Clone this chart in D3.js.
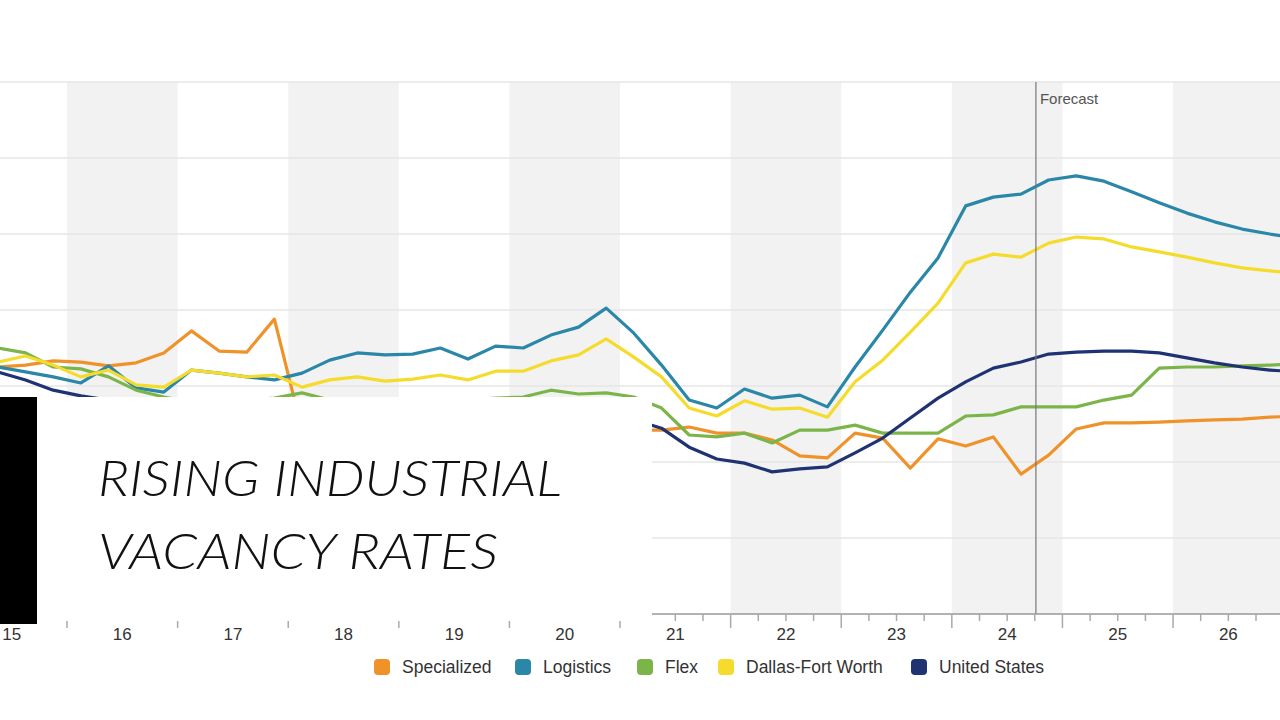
<!DOCTYPE html>
<html><head><meta charset="utf-8">
<script src="https://cdn.jsdelivr.net/npm/d3@7"></script>
<style>body{margin:0;background:#fff}svg{display:block}</style>
</head><body><svg id="c" width="1280" height="720"></svg>
<script>
const yearLabels = ["15","16","17","18","19","20","21","22","23","24","25","26"];
const seriesNames = ["Specialized","Logistics","Flex","Dallas-Fort Worth","United States"];
const seriesColors = ["#f0922a","#2a87a8","#7bb54a","#f5dc2c","#1f3272"];
// quarterly values, 2015 Q2 .. 2027 Q1
const specialized = [6.50,6.55,6.66, 6.63,6.53,6.61,6.87, 7.45,6.92,6.89,7.76, 4.84,4.79,4.89,4.71, 4.84,4.89,4.79,4.84, 4.97,4.89,4.84,4.95, 4.84,4.84,4.92,4.76, 4.76,4.58,4.16,4.11, 4.76,4.63,3.84,4.61, 4.42,4.66,3.68,4.18, 4.87,5.03,5.03,5.05, 5.08,5.11,5.13,5.18, 5.21];
const logistics = [6.50,6.37,6.24, 6.08,6.53,5.95,5.84, 6.42,6.34,6.24,6.16, 6.34,6.68,6.87,6.82, 6.84,7.00,6.71,7.05, 7.00,7.34,7.55,8.05, 7.39,6.55,5.63,5.42, 5.92,5.68,5.76,5.45, 6.50,7.47,8.47,9.37, 10.74,10.97,11.05,11.42, 11.53,11.39,11.11,10.82, 10.55,10.32,10.13,10.00, 9.89];
const flex = [7.00,6.87,6.50, 6.45,6.24,5.89,5.71, 5.58,5.50,5.63,5.68, 5.82,5.63,5.50,5.47, 5.53,5.58,5.63,5.68, 5.71,5.89,5.79,5.82, 5.71,5.42,4.71,4.66, 4.76,4.50,4.84,4.84, 4.97,4.76,4.76,4.76, 5.21,5.24,5.45,5.45, 5.45,5.63,5.76,6.47, 6.50,6.50,6.53,6.55, 6.58];
const dfw = [6.63,6.79,6.55, 6.24,6.42,6.03,5.97, 6.42,6.34,6.24,6.29, 5.97,6.16,6.24,6.13, 6.18,6.29,6.16,6.39, 6.39,6.66,6.82,7.24, 6.76,6.24,5.42,5.21, 5.61,5.39,5.42,5.18, 6.11,6.68,7.42,8.18, 9.24,9.47,9.39,9.76, 9.92,9.87,9.66,9.53, 9.39,9.24,9.11,9.03, 8.95];
const us = [6.37,6.16,5.89, 5.74,5.63,5.50,5.37, 5.32,5.26,5.24,5.21, 5.16,5.11,5.05,5.00, 4.97,4.95,4.92,4.89, 4.97,5.16,5.32,5.24, 5.11,4.89,4.39,4.08, 3.97,3.74,3.82,3.87, 4.24,4.63,5.16,5.68, 6.11,6.47,6.63,6.84, 6.89,6.92,6.92,6.87, 6.74,6.61,6.50,6.42, 6.37];
const yTicks = [2,4,6,8,10,12,14];
const forecastStart = 2024.76;
const firstYear = 2015, firstQuarter = 2;

const allSeries = [specialized, logistics, flex, dfw, us];
const svg = d3.select("#c");
const x = d3.scaleLinear().domain([2015.394, 2026.967]).range([0,1280]);
const y = d3.scaleLinear().domain([0,14]).range([614,82]);
const tOf = i => { const q = firstQuarter - 1 + i; return firstYear + Math.floor(q/4) + ((q%4)+0.5)/4; };

svg.append("defs").append("clipPath").attr("id","cp").append("rect").attr("x",0).attr("y",y(14)).attr("width",1280).attr("height",y(0)-y(14));
const years = yearLabels.map(d => 2000 + +d);
svg.selectAll("rect.band").data(years.filter(v => v%2===0)).join("rect")
  .attr("x", d => x(d)).attr("y", y(14)).attr("width", d => x(d+1)-x(d)).attr("height", y(0)-y(14)).attr("fill","#f2f2f2");
svg.selectAll("line.grid").data(yTicks).join("line")
  .attr("x1",0).attr("x2",1280).attr("y1",d=>y(d)).attr("y2",d=>y(d)).attr("stroke","#e6e6e6").attr("stroke-width",1.5);
const line = d3.line().x((d,i)=>x(tOf(i))).y(d=>y(d));
const g = svg.append("g").attr("clip-path","url(#cp)");
allSeries.forEach((s,k)=>{
  g.append("path").datum(s).attr("d",line).attr("fill","none").attr("stroke",seriesColors[k]).attr("stroke-width",3.2).attr("stroke-linejoin","round");
});
svg.append("line").attr("x1",x(forecastStart)).attr("x2",x(forecastStart)).attr("y1",y(14)).attr("y2",y(0)).attr("stroke","#777").attr("stroke-width",1.2);
svg.append("text").attr("x",x(forecastStart)+4).attr("y",104).text("Forecast").attr("font-family","Liberation Sans, Arial").attr("font-size",15).attr("fill","#555");
const ax = svg.append("g").attr("transform","translate(0,614)");
ax.append("line").attr("x1",0).attr("x2",1280).attr("stroke","#999").attr("stroke-width",1.5);
const quarterTicks = d3.range(2015, 2027.01, 0.25);
ax.selectAll("line.t").data(quarterTicks).join("line")
  .attr("x1",d=>x(d)).attr("x2",d=>x(d)).attr("y1",0).attr("y2",d=>Number.isInteger(d)?14:7).attr("stroke","#aaa").attr("stroke-width",1.5);
ax.selectAll("text").data(years).join("text").attr("x",d=>x(d+0.5)).attr("y",26).attr("text-anchor","middle")
  .text((d,i)=>yearLabels[i]).attr("font-family","Liberation Sans, Arial").attr("font-size",17).attr("fill","#333");
const legX = [382,523,645,726,919];
const lg = svg.append("g").selectAll("g").data(seriesNames).join("g").attr("transform",(d,i)=>`translate(${legX[i]},667)`);
lg.append("rect").attr("x",-8).attr("y",-8).attr("width",16).attr("height",16).attr("rx",4).attr("fill",(d,i)=>seriesColors[i]);
lg.append("text").attr("x",20).attr("y",6).text(d=>d).attr("font-family","Liberation Sans, Arial").attr("font-size",17.5).attr("fill","#333");
svg.append("rect").attr("x",0).attr("y",397).attr("width",652).attr("height",224).attr("fill","#fff");
svg.append("rect").attr("x",0).attr("y",397).attr("width",37).attr("height",227).attr("fill","#000");
const tt = svg.append("text").attr("font-family","Lato").attr("font-style","italic").attr("font-weight",300).attr("font-size",50).attr("fill","#111");
tt.append("tspan").attr("x",98).attr("y",496).attr("textLength",464).attr("lengthAdjust","spacingAndGlyphs").text("RISING INDUSTRIAL");
tt.append("tspan").attr("x",98).attr("y",569).attr("textLength",400).attr("lengthAdjust","spacingAndGlyphs").text("VACANCY RATES");
</script></body></html>
